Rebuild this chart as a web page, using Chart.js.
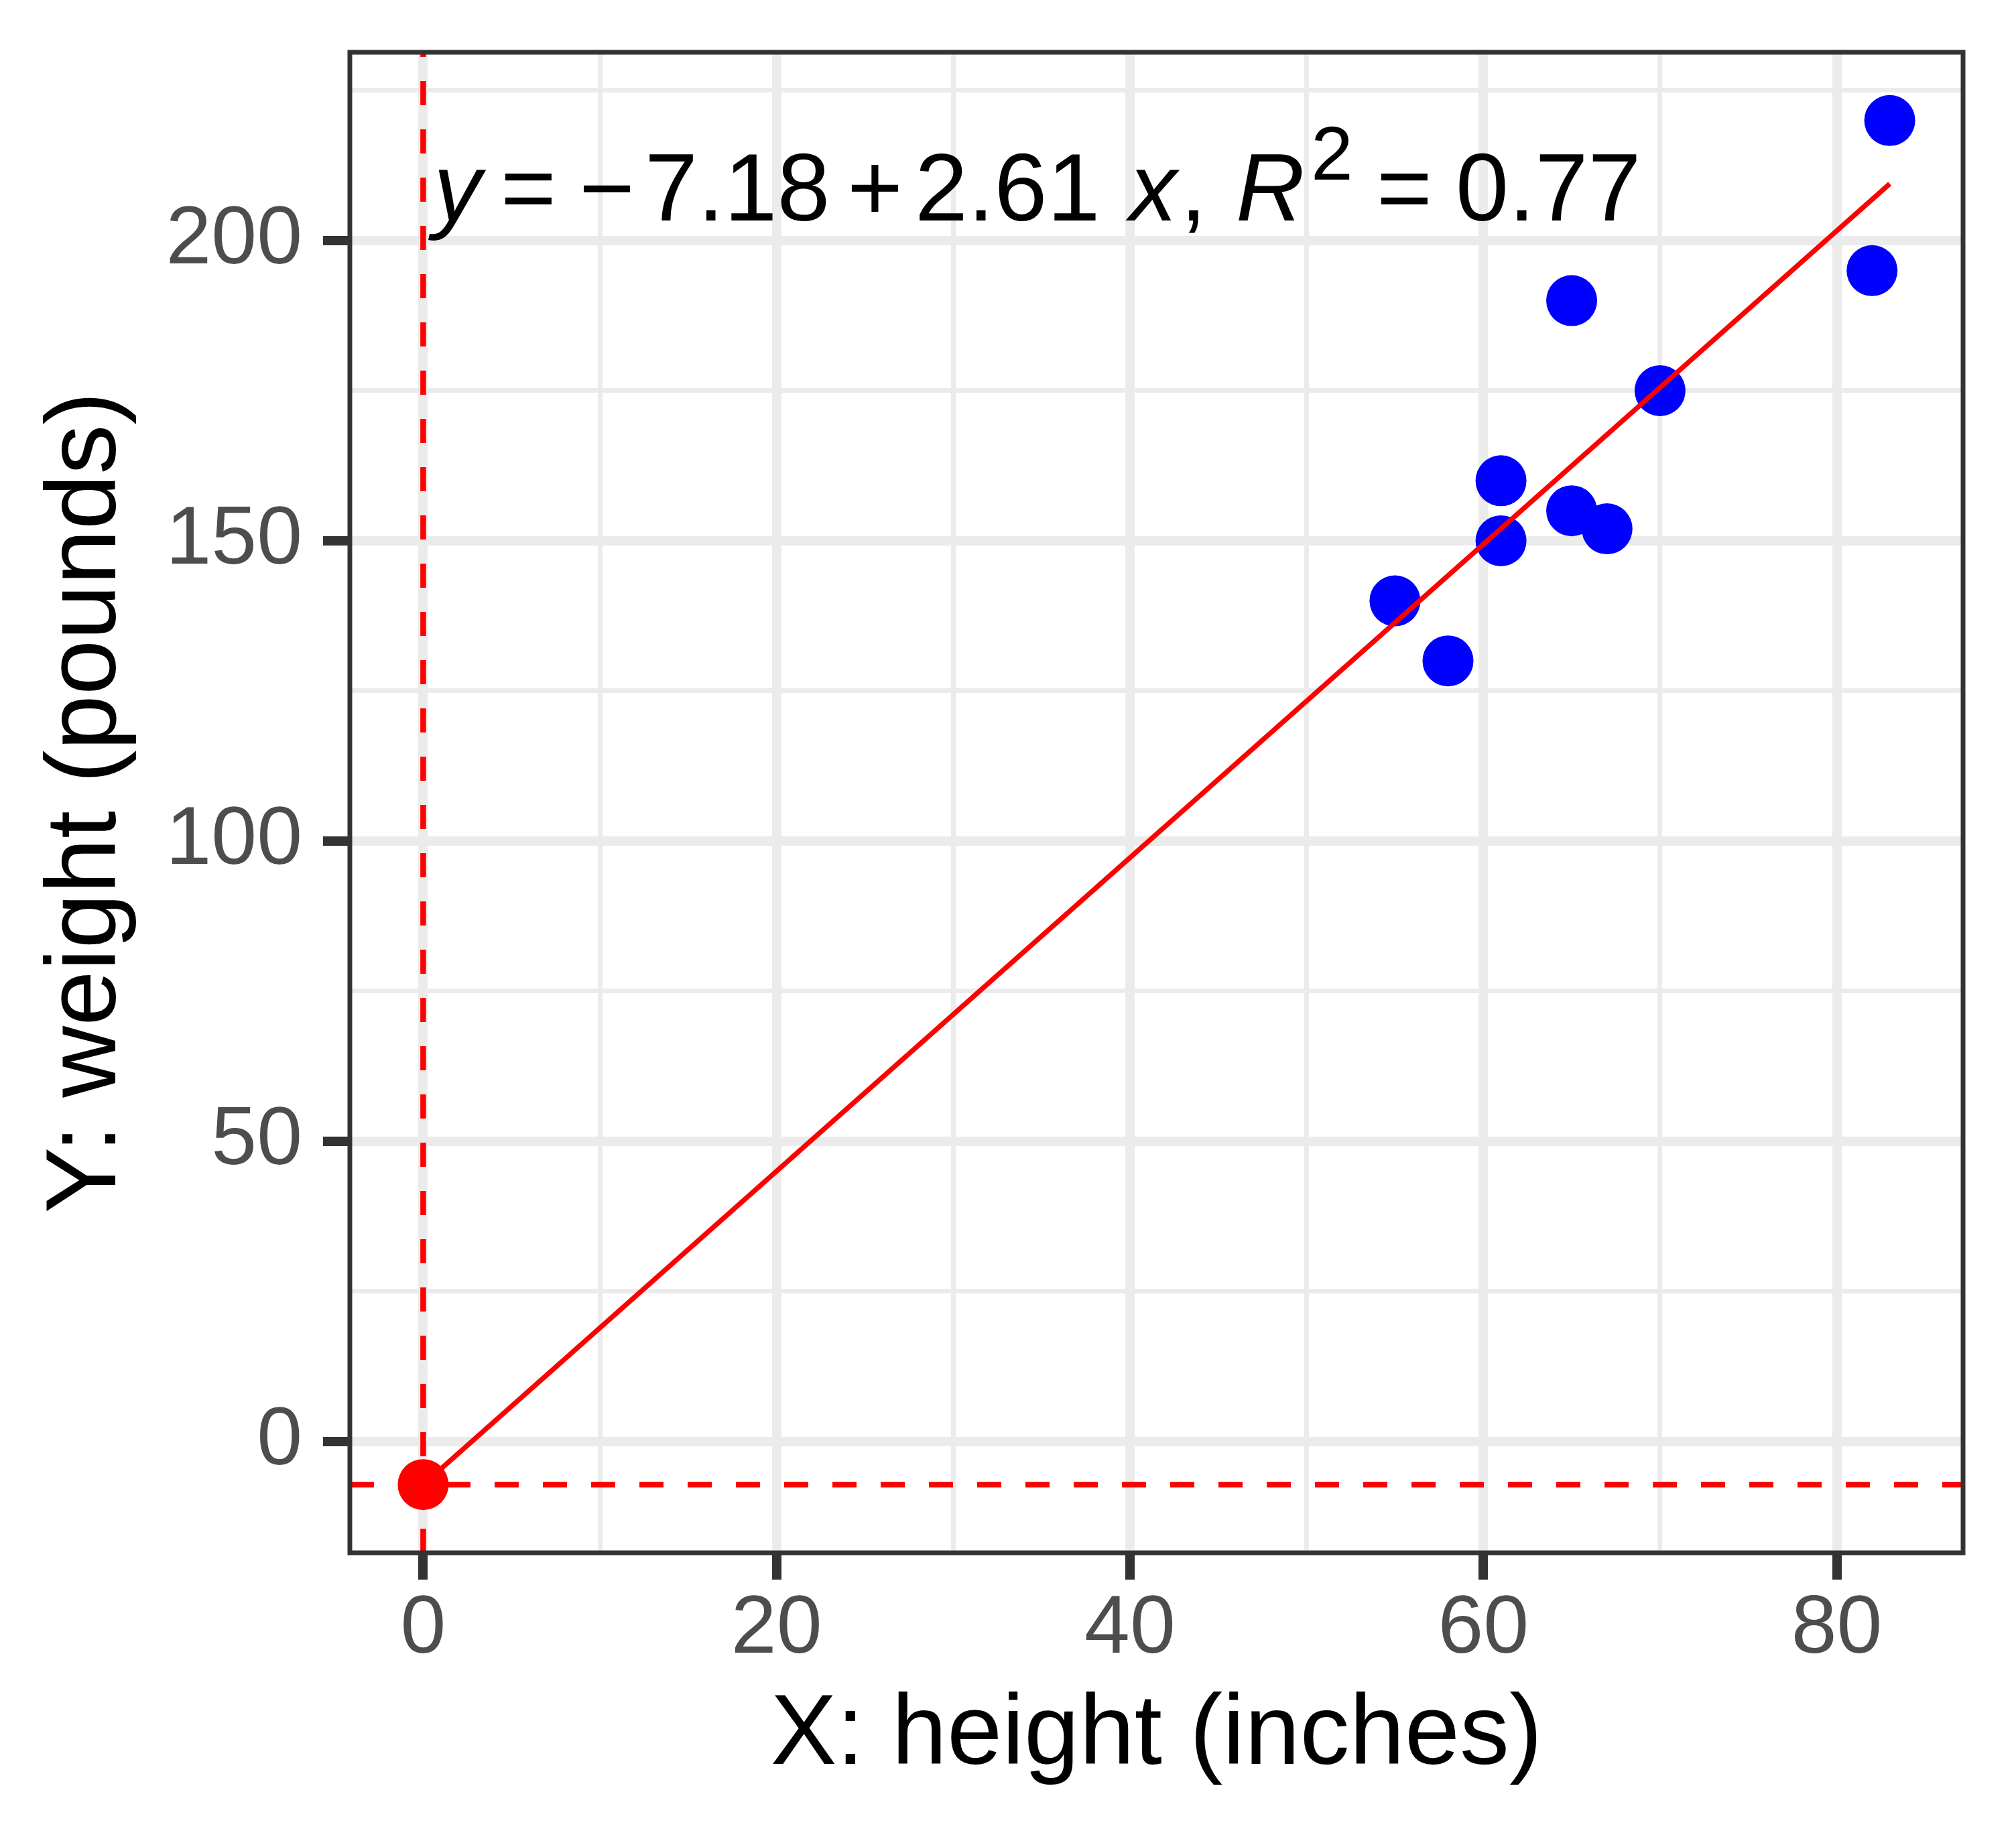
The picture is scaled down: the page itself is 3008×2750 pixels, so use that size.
<!DOCTYPE html>
<html>
<head>
<meta charset="utf-8">
<script src="https://cdn.jsdelivr.net/npm/chart.js@4.4.1/dist/chart.umd.min.js"></script>
<style>
  html, body { margin: 0; padding: 0; background: #ffffff; }
  canvas { display: block; }
</style>
</head>
<body>
<canvas id="chart" width="3008" height="2750" style="width:3008px;height:2750px"></canvas>
<script>
// data
const heights = [55, 58, 61, 61, 65, 65, 67, 70, 82, 83];
const weights = [140, 130, 150, 160, 155, 190, 152, 175, 195, 220];

// fitted line y = -7.18 + 2.61 x, drawn between the smallest and largest x
const intercept = -7.18;
const fitX = [0, 83];
const fitY = [-7.18, 209.45];

// axis ranges and tick values
const xLimits = [-4.15, 87.15];
const yLimits = [-18.54, 231.36];
const xTicksMajor = [0, 20, 40, 60, 80];
const xTicksMinor = [10, 30, 50, 70];
const yTicksMajor = [0, 50, 100, 150, 200];
const yTicksMinor = [25, 75, 125, 175, 225];

const FONT = '"Liberation Sans", Arial, Helvetica, sans-serif';

function toPoints(xs, ys) {
    return xs.map((x, i) => ({ x: x, y: ys[i] }));
}

function gridOptions(majors) {
    return {
        color: '#EBEBEB',
        lineWidth: ctx => majors.includes(ctx.tick.value) ? 14 : 7,
        drawTicks: true,
        tickLength: 40,
        tickWidth: 14,
        tickColor: ctx => majors.includes(ctx.tick.value) ? '#333333' : 'rgba(0,0,0,0)'
    };
}

function noPadding(scale) {
    scale.paddingTop = 0;
    scale.paddingBottom = 0;
    scale.paddingLeft = 0;
    scale.paddingRight = 0;
}

// panel border and the regression equation
const panelPlugin = {
    id: 'panel',
    afterDatasetsDraw(chart) {
        const ctx = chart.ctx;
        const area = chart.chartArea;
        const x0 = area.left + 116;
        const base = area.top + 251;
        // text, italic, superscript, left edge of the glyphs from x0
        const pieces = [
            ['y', true, false, 0],
            ['=', false, false, 115],
            ['\u2212', false, false, 233],
            ['7.18', false, false, 331],
            ['+', false, false, 632],
            ['2.61', false, false, 734],
            ['x', true, false, 1041],
            [',', false, false, 1135],
            ['R', true, false, 1210],
            ['2', false, true, 1323],
            ['=', false, false, 1422],
            ['0.77', false, false, 1539]
        ];
        ctx.save();
        ctx.fillStyle = '#000000';
        ctx.textBaseline = 'alphabetic';
        ctx.textAlign = 'left';
        pieces.forEach(p => {
            const size = p[2] ? 113 : 142;
            ctx.font = (p[1] ? 'italic ' : '') + size + 'px ' + FONT;
            const m = ctx.measureText(p[0]);
            ctx.fillText(p[0], x0 + p[3] + m.actualBoundingBoxLeft, p[2] ? base - 61 : base);
        });
        ctx.restore();
    },
    afterDraw(chart) {
        const ctx = chart.ctx;
        const a = chart.chartArea;
        ctx.save();
        ctx.strokeStyle = '#333333';
        ctx.lineWidth = 7;
        ctx.strokeRect(a.left, a.top, a.right - a.left, a.bottom - a.top);
        ctx.restore();
    }
};

new Chart(document.getElementById('chart'), {
    type: 'scatter',
    data: {
        datasets: [
            {
                label: 'intercept point',
                data: [{ x: 0, y: intercept }],
                backgroundColor: '#FF0000',
                borderWidth: 0,
                pointRadius: 38,
                order: 0
            },
            {
                label: 'fit',
                data: toPoints(fitX, fitY),
                showLine: true,
                borderColor: '#FF0000',
                borderWidth: 7.5,
                pointRadius: 0,
                order: 1
            },
            {
                label: 'height vs weight',
                data: toPoints(heights, weights),
                backgroundColor: '#0000FF',
                borderWidth: 0,
                pointRadius: 38,
                order: 2
            },
            {
                label: 'x = 0',
                data: toPoints([0, 0], yLimits),
                showLine: true,
                borderColor: '#FF0000',
                borderWidth: 8.5,
                borderDash: [36, 36],
                pointRadius: 0,
                order: 3
            },
            {
                label: 'y = intercept',
                data: toPoints(xLimits, [intercept, intercept]),
                showLine: true,
                borderColor: '#FF0000',
                borderWidth: 8.5,
                borderDash: [36, 36],
                pointRadius: 0,
                order: 3
            }
        ]
    },
    options: {
        responsive: false,
        animation: false,
        devicePixelRatio: 1,
        layout: { padding: { left: 0, top: 78, right: 79, bottom: 0 } },
        plugins: {
            legend: { display: false },
            tooltip: { enabled: false }
        },
        scales: {
            x: {
                type: 'linear',
                min: xLimits[0],
                max: xLimits[1],
                afterBuildTicks: scale => {
                    scale.ticks = xTicksMajor.concat(xTicksMinor).map(v => ({ value: v }));
                },
                afterFit: scale => { scale.height = 433; noPadding(scale); },
                border: { display: false },
                grid: gridOptions(xTicksMajor),
                ticks: {
                    autoSkip: false,
                    maxRotation: 0,
                    padding: 2,
                    color: '#4D4D4D',
                    font: { family: FONT, size: 122 },
                    callback: v => xTicksMajor.includes(v) ? String(v) : ''
                },
                title: {
                    display: true,
                    text: 'X: height (inches)',
                    color: '#000000',
                    font: { family: FONT, size: 148 },
                    padding: { top: 0, bottom: 70 }
                }
            },
            y: {
                type: 'linear',
                min: yLimits[0],
                max: yLimits[1],
                afterBuildTicks: scale => {
                    scale.ticks = yTicksMajor.concat(yTicksMinor).map(v => ({ value: v }));
                },
                afterFit: scale => { scale.width = 522; noPadding(scale); },
                border: { display: false },
                grid: gridOptions(yTicksMajor),
                ticks: {
                    autoSkip: false,
                    padding: 31,
                    color: '#4D4D4D',
                    font: { family: FONT, size: 122 },
                    callback: v => yTicksMajor.includes(v) ? String(v) : ''
                },
                title: {
                    display: true,
                    text: 'Y: weight (pounds)',
                    color: '#000000',
                    font: { family: FONT, size: 148 },
                    padding: { top: 42, bottom: 0 }
                }
            }
        }
    },
    plugins: [panelPlugin]
});
</script>
</body>
</html>
